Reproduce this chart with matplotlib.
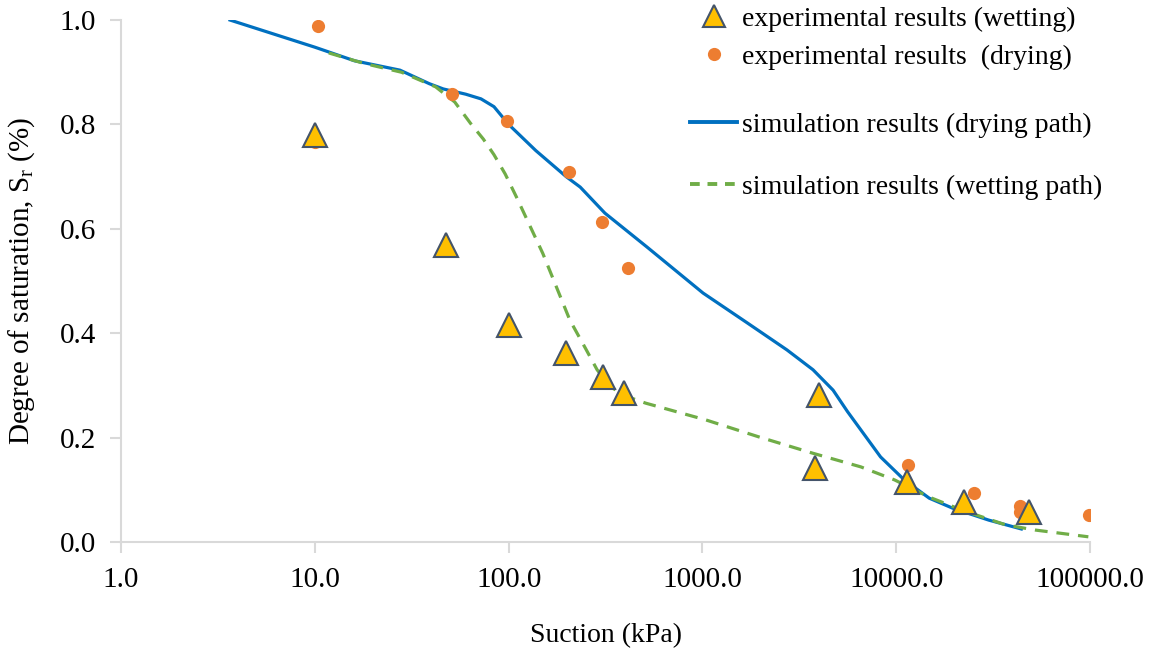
import matplotlib
matplotlib.use("Agg")
import matplotlib.pyplot as plt
from matplotlib.ticker import FixedLocator, FormatStrFormatter
from matplotlib.lines import Line2D

plt.rcParams["font.family"] = ["Liberation Serif", "DejaVu Serif"]
plt.rcParams["mathtext.fontset"] = "custom"
plt.rcParams["mathtext.rm"] = "Liberation Serif"

# experimental points
wet_x = [10, 47.5, 100, 198, 307, 394, 3980, 3800, 11300, 22300, 48600]
wet_y = [0.78, 0.569, 0.416, 0.362, 0.316, 0.285, 0.282, 0.142, 0.115, 0.077, 0.058]

dry_x = [10.4, 10, 51, 98, 100, 205, 304, 414, 3980, 3800, 11500, 25300, 43600, 43600, 98800]
dry_y = [0.988, 0.766, 0.858, 0.806, 0.41, 0.709, 0.613, 0.525, 0.27, 0.132, 0.148, 0.094, 0.069, 0.058, 0.052]

# simulated curves
sim_dry_x = [3.65, 10, 16, 27.5, 39, 46, 60, 72, 84, 100, 138, 198, 234, 314, 518, 1007,
             1700, 2730, 3720, 4720, 5600, 6560, 8300, 11000, 14800, 19500, 30000, 44200]
sim_dry_y = [1.0, 0.948, 0.922, 0.904, 0.878, 0.868, 0.858, 0.849, 0.834, 0.80, 0.75, 0.70, 0.68, 0.63, 0.565, 0.477,
             0.42, 0.368, 0.33, 0.291, 0.25, 0.215, 0.163, 0.119, 0.084, 0.065, 0.042, 0.025]

sim_wet_x = [11.8, 17.9, 28, 42, 52.7, 63.6, 74, 84, 96, 110, 150, 207, 250, 286, 335, 420, 510, 1040,
             1970, 3720, 6560, 9800, 14800, 21900, 36600, 52000, 98000]
sim_wet_y = [0.937, 0.917, 0.9, 0.872, 0.843, 0.802, 0.772, 0.742, 0.705, 0.66, 0.553, 0.425, 0.37, 0.33, 0.297, 0.277, 0.266, 0.234,
             0.201, 0.17, 0.144, 0.119, 0.086, 0.061, 0.033, 0.023, 0.01]

x_ticks = [1, 10, 100, 1000, 10000, 100000]
y_ticks = [0.0, 0.2, 0.4, 0.6, 0.8, 1.0]

fig = plt.figure(figsize=(11.53, 6.51), dpi=100)
ax = fig.add_axes([0.105, 0.1674, 0.8404, 0.8018])

ax.plot(sim_dry_x, sim_dry_y, color="#0070C0", lw=2.3, zorder=2)
ax.plot(sim_wet_x, sim_wet_y, color="#70AD47", lw=2.3, ls=(0, (4, 2.8)), zorder=3)
ax.plot(dry_x, dry_y, "o", color="#ED7D31", ms=9.5, mec="none", zorder=4)
ax.plot(wet_x, wet_y, "^", color="#FFC000", ms=17, mec="#44546A", mew=1.5, zorder=5)

ax.set_xscale("log")
ax.set_xlim(1, 100000)
ax.set_ylim(0, 1)
ax.xaxis.set_major_locator(FixedLocator(x_ticks))
ax.xaxis.set_minor_locator(FixedLocator([]))
ax.xaxis.set_major_formatter(FormatStrFormatter("%.1f"))
ax.yaxis.set_major_locator(FixedLocator(y_ticks))
ax.yaxis.set_major_formatter(FormatStrFormatter("%.1f"))

for s in ["top", "right"]:
    ax.spines[s].set_visible(False)
for s in ["left", "bottom"]:
    ax.spines[s].set_color("#d9d9d9")
    ax.spines[s].set_linewidth(1.5)
ax.tick_params(axis="both", direction="out", length=8, width=1.5, color="#d9d9d9",
               labelsize=21, labelcolor="#000000", pad=10)

ax.set_xlabel("Suction (kPa)", fontsize=20, labelpad=22)
ax.set_ylabel(r"Degree of saturation, S$_{\mathrm{r}}$ (%)", fontsize=21, labelpad=16)

h1 = [Line2D([], [], ls="none", marker="^", color="#FFC000", ms=16, mec="#44546A", mew=1.5),
      Line2D([], [], ls="none", marker="o", color="#ED7D31", ms=9.5, mec="none")]
leg1 = fig.legend(h1, ["experimental results (wetting)", "experimental results  (drying)"],
                  loc="center left", bbox_to_anchor=(0.589, 0.941), frameon=False,
                  fontsize=20, handlelength=1.7, handletextpad=0.15, labelspacing=0.45,
                  borderaxespad=0)
h2 = [Line2D([], [], color="#0070C0", lw=2.8),
      Line2D([], [], color="#70AD47", lw=2.8, ls=(0, (2.5, 2)))]
leg2 = fig.legend(h2, ["simulation results (drying path)", "simulation results (wetting path)"],
                  loc="center left", bbox_to_anchor=(0.589, 0.760), frameon=False,
                  fontsize=20, handlelength=1.7, handletextpad=0.15, labelspacing=1.3,
                  borderaxespad=0)

fig.savefig("out.png", dpi=100)
